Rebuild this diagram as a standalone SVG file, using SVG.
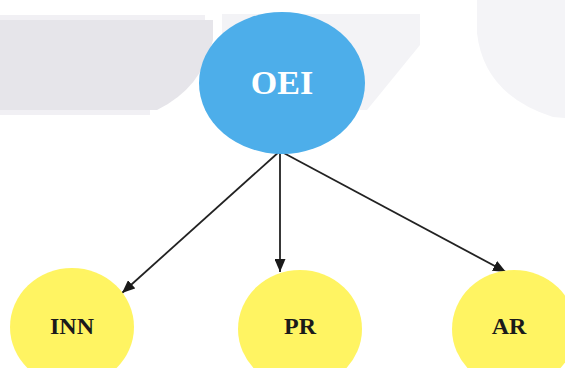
<svg xmlns="http://www.w3.org/2000/svg" width="565" height="368" viewBox="0 0 565 368">
  <style>
    .root { fill: #4daeea; }
    .leaf { fill: #fff462; }
    .root-label { font-family: "Liberation Serif", "Times New Roman", serif; font-weight: bold; font-size: 34px; fill: #ffffff; }
    .leaf-label { font-family: "Liberation Serif", "Times New Roman", serif; font-weight: bold; font-size: 24px; fill: #1a1a1a; }
    .edge { stroke: #222222; stroke-width: 1.8; fill: none; marker-end: url(#arrow); }
  </style>
  <defs>
    <marker id="arrow" markerUnits="userSpaceOnUse" markerWidth="13" markerHeight="11" refX="13" refY="5.5" orient="auto">
      <path d="M0,0 L13,5.5 L0,11 Z" fill="#1a1a1a"/>
    </marker>
  </defs>

  <rect width="565" height="368" fill="#ffffff"/>

  <!-- pale backdrop panels -->
  <g id="backdrop">
    <rect x="0" y="15" width="205" height="6" fill="#f1f0f4"/>
    <path d="M0,20 L213,20 L213,40 Q202,88 157,110 L0,110 Z" fill="#e6e5ea"/>
    <rect x="0" y="110" width="150" height="5" fill="#f1f0f4"/>
    <path d="M222,14 L420,14 L420,45 L367,110 L222,110 Z" fill="#f3f3f6"/>
    <path d="M477,0 L565,0 L565,118 L553,117 Q484,95 477,33 Z" fill="#f4f4f7"/>
  </g>

  <!-- connectors -->
  <g id="connectors">
    <line class="edge" x1="280" y1="151" x2="122" y2="293"/>
    <line class="edge" x1="280" y1="151" x2="280" y2="272"/>
    <line class="edge" x1="280" y1="151" x2="506" y2="272"/>
  </g>

  <g id="node-oei">
    <ellipse class="root" cx="282" cy="83" rx="83" ry="71"/>
    <text class="root-label" x="282" y="82" text-anchor="middle" dominant-baseline="central">OEI</text>
  </g>

  <g id="node-inn">
    <ellipse class="leaf" cx="72" cy="327" rx="62" ry="59"/>
    <text class="leaf-label" x="72" y="326" text-anchor="middle" dominant-baseline="central">INN</text>
  </g>

  <g id="node-pr">
    <ellipse class="leaf" cx="300" cy="329" rx="62" ry="59"/>
    <text class="leaf-label" x="300" y="326" text-anchor="middle" dominant-baseline="central">PR</text>
  </g>

  <g id="node-ar">
    <ellipse class="leaf" cx="514" cy="329" rx="62" ry="59"/>
    <text class="leaf-label" x="509" y="326" text-anchor="middle" dominant-baseline="central">AR</text>
  </g>
</svg>
